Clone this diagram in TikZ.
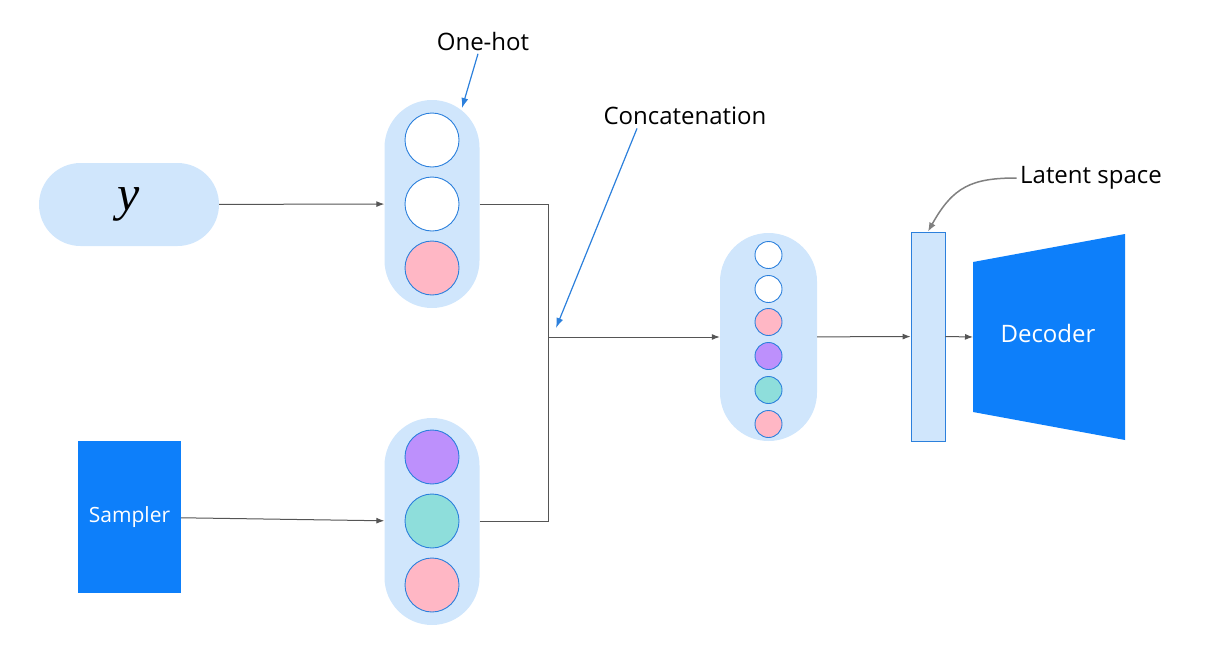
\documentclass[tikz,border=0pt]{standalone}
\usepackage{fontspec}
\setmainfont{Open Sans}
\newfontfamily\seriffont{Liberation Serif}
\usetikzlibrary{positioning}
\usetikzlibrary{arrows.meta}
\definecolor{paleblue}{HTML}{D0E6FC}
\definecolor{brightblue}{HTML}{0D7FFA}
\definecolor{ringblue}{HTML}{2C80DC}
\definecolor{pinkunit}{HTML}{FFB7C5}
\definecolor{purpleunit}{HTML}{BD90FC}
\definecolor{tealunit}{HTML}{8EDEDB}
\definecolor{wiregray}{HTML}{555555}
\tikzset{>={Latex[width=6pt,length=8pt]}}
\tikzset{
  pill/.style={fill=paleblue, inner sep=0pt},
  neuron/.style={circle, draw=ringblue, line width=0.9pt, minimum size=54pt, inner sep=0pt},
  smallneuron/.style={neuron, minimum size=27pt},
  wire/.style={draw=wiregray, line width=1pt},
  pointer/.style={draw=ringblue, line width=1.2pt, -{Latex[width=7pt,length=10pt]}},
}

\begin{document}
\begin{tikzpicture}[x=1pt, y=-1pt, font=\fontsize{24}{28}\selectfont]
\useasboundingbox (0,0) rectangle (1229,651);
\node (y) [pill, minimum width=180pt, minimum height=83pt, rounded corners=41.5pt, font=\seriffont\itshape\fontsize{50}{50}\selectfont] at (129,204.5) {y};
\node (sampler) [fill=brightblue, minimum width=103pt, minimum height=152pt, text=white, font=\fontsize{21}{25}\selectfont] at (129.5,517) {Sampler};
\node (onehot) [pill, minimum width=95pt, minimum height=208pt, rounded corners=47.5pt] at (432,204) {};
\node (noise) [pill, minimum width=95pt, minimum height=207pt, rounded corners=47.5pt] at (432,521.5) {};
\node (concat) [pill, minimum width=97pt, minimum height=208pt, rounded corners=48.5pt] at (768.5,337) {};
\node (latent) [draw=ringblue, fill=paleblue, line width=0.8pt, minimum width=34pt, minimum height=209pt, inner sep=0pt] at (928,336.5) {};

\node (oh1) [neuron, fill=white] at (432,140) {};
\node (oh2) [neuron, fill=white] at (432,204) {};
\node (oh3) [neuron, fill=pinkunit] at (432,268) {};
\node (nz1) [neuron, fill=purpleunit] at (432,457) {};
\node (nz2) [neuron, fill=tealunit] at (432,521) {};
\node (nz3) [neuron, fill=pinkunit] at (432,585) {};
\node (cc1) [smallneuron, fill=white] at (768.5,255) {};
\node (cc2) [smallneuron, fill=white] at (768.5,289) {};
\node (cc3) [smallneuron, fill=pinkunit] at (768.5,322) {};
\node (cc4) [smallneuron, fill=purpleunit] at (768.5,356) {};
\node (cc5) [smallneuron, fill=tealunit] at (768.5,390) {};
\node (cc6) [smallneuron, fill=pinkunit] at (768.5,424) {};

\path [fill=brightblue] (973,262) -- (1125,234) -- (1125,440) -- (973,412) -- cycle;
\node (decoder) [text=white] at (1048,333) {Decoder};
\coordinate (decin) at (973,337);
\coordinate (join) at (548,337);

\node (onehotnote) at (483,41) {One-hot};
\node (catnote) at (685,116) {Concatenation};
\node (latnote) at (1091,178) {Latent space};
\coordinate (onehottip) at (462,108);
\coordinate (cattip) at (556,328);

\path [wire, ->] (y) -- (onehot);
\path [wire, ->] (sampler) -- (noise);
\path [wire] (onehot.east) -| (join);
\path [wire] (noise.east) -| (join);
\path [wire, ->] (join) -- (concat.west);
\path [wire, ->] (concat) -- (latent);
\path [wire, ->] (latent.east) -- (decin);
\path [pointer] ([xshift=-5pt]onehotnote.south) -- (onehottip);
\path [pointer] ([xshift=-48pt]catnote.south) -- (cattip);
\path [draw=gray, line width=1.5pt, -{Latex[width=7pt,length=9pt]}] (latnote.west) .. controls +(-45,0) and +(25,-45) .. (latent.north);
\end{tikzpicture}
\end{document}
